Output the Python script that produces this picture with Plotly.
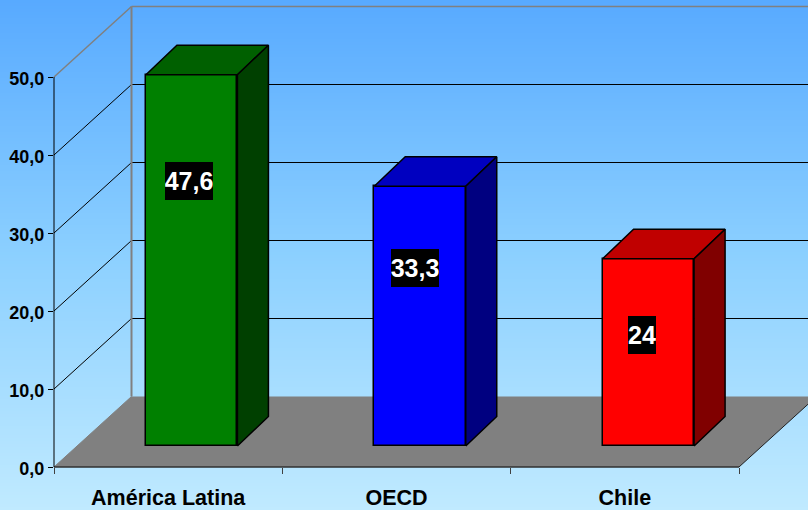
import plotly.graph_objects as go

# ---- data ----
categories = ["América Latina", "OECD", "Chile"]
values = [47.6, 33.3, 24]
value_labels = ["47,6", "33,3", "24"]
y_ticks = [0, 10, 20, 30, 40, 50]

# ---- styling ----
front_colors = ["#008000", "#0000FF", "#FF0000"]
top_colors = ["#006000", "#0000C0", "#C00000"]
side_colors = ["#004000", "#000080", "#800000"]
FONT = "Liberation Sans, Arial, sans-serif"

W, H = 808, 510
YMAX = 50
YTOP = 55                              # axis runs past the last tick to hold the 3D tops
L, R, B = 54, 739, 467                 # pixel box of the front plane
N = len(categories)
PX_X = (R - L) / N
PX_Y = 7.8
T = B - YTOP * PX_Y
DX, DY = 77.5 / PX_X, 70.5 / PX_Y      # chart depth in data units
BAR_W = 91.5 / PX_X
BAR_OFF = 0.5 + 23.5 / PX_X            # bar centre relative to its slot start
BAR_BASE = 21 / PX_Y
BDX, BDY = 31 / PX_X, 29.5 / PX_Y      # bar depth in data units
LABEL_Y = [36.7, 25.5, 16.9]
LABEL_DX = [-2.7, -5, -6.3]


def px(x):
    return x / N


def py(v):
    return v / YTOP


shapes = []
# background gradient
TOP, MID, BOT = (88, 170, 255), (140, 208, 255), (192, 234, 255)
for i in range(0, H, 3):
    f = i / (H - 1)
    a, b, g = (TOP, MID, f * 2) if f < 0.5 else (MID, BOT, f * 2 - 1)
    c = tuple(round(p + (q - p) * g) for p, q in zip(a, b))
    shapes.append(dict(type="rect", xref="paper", yref="paper", layer="below",
                       x0=-L / (R - L), x1=(W - L) / (R - L),
                       y0=(B - (i + 3.5)) / (B - T), y1=(B - i) / (B - T),
                       fillcolor=f"rgb{c}", line=dict(width=0)))


def seg(x0, v0, x1, v1, color, width):
    shapes.append(dict(type="line", xref="paper", yref="paper", layer="below",
                       x0=px(x0), y0=py(v0), x1=px(x1), y1=py(v1),
                       line=dict(color=color, width=width)))


# floor
shapes.append(dict(
    type="path", xref="paper", yref="paper", layer="below",
    path=f"M {px(0)} {py(0)} L {px(N)} {py(0)} L {px(N + DX)} {py(DY)} L {px(DX)} {py(DY)} Z",
    fillcolor="#808080", line=dict(width=0)))
# walls and gridlines
for v in y_ticks[1:-1]:
    seg(0, v, DX, v + DY, "#000000", 1)
    seg(DX, v + DY, N + DX, v + DY, "#000000", 1)
seg(0, YMAX, DX, YMAX + DY, "#808080", 1.5)
seg(DX, YMAX + DY, N + DX, YMAX + DY, "#808080", 1.5)
seg(DX, DY, DX, YMAX + DY, "#808080", 2)
seg(0, 0, DX, DY, "#808080", 1)
seg(N, 0, N + DX, DY, "#202020", 1)
seg(0, 0, N, 0, "#303030", 1.5)
seg(0, 0, 0, YMAX, "#000000", 1)

fig = go.Figure()
line = dict(color="#000000", width=1.5)
for i, v in enumerate(values):
    xc = i + BAR_OFF
    x0, x1 = xc - BAR_W / 2, xc + BAR_W / 2
    fig.add_trace(go.Bar(x=[xc], y=[v], base=BAR_BASE, width=BAR_W,
                         marker=dict(color=front_colors[i], line=line),
                         cliponaxis=False, showlegend=False, hoverinfo="skip"))
    top = BAR_BASE + v
    fig.add_trace(go.Scatter(
        x=[x0, x1, x1 + BDX, x0 + BDX, x0],
        y=[top, top, top + BDY, top + BDY, top],
        fill="toself", fillcolor=top_colors[i], mode="lines", line=line,
        cliponaxis=False, showlegend=False, hoverinfo="skip"))
    fig.add_trace(go.Scatter(
        x=[x1, x1 + BDX, x1 + BDX, x1, x1],
        y=[BAR_BASE, BAR_BASE + BDY, top + BDY, top, BAR_BASE],
        fill="toself", fillcolor=side_colors[i], mode="lines", line=line,
        cliponaxis=False, showlegend=False, hoverinfo="skip"))

annotations = [
    dict(x=i + BAR_OFF + LABEL_DX[i] / PX_X, y=LABEL_Y[i], text=value_labels[i], showarrow=False,
         xref="x", yref="y", bgcolor="#000000", borderpad=0, borderwidth=0,
         height=38, width=48 if len(value_labels[i]) > 2 else 28,
         font=dict(family=FONT, size=25, color="#FFFFFF", weight="bold"))
    for i in range(N)
]

fig.update_layout(
    width=W, height=H, autosize=False,
    margin=dict(l=L, r=W - R, t=T, b=H - B, pad=0, autoexpand=False),
    paper_bgcolor="#8CCBFF", plot_bgcolor="rgba(0,0,0,0)",
    separators=",.", bargap=0, barmode="overlay", hovermode=False,
    showlegend=False, shapes=shapes, annotations=annotations,
    font=dict(family=FONT, color="#000000"),
    xaxis=dict(range=[0, N], showgrid=False, zeroline=False, automargin=False,
               tickmode="array", tickvals=[i + 0.5 for i in range(N)], ticktext=categories,
               ticks="", tickfont=dict(family=FONT, size=21.5, color="#000000", weight="bold"),
               ticklabelstandoff=15, showline=False,
               minor=dict(tickmode="array", tickvals=list(range(N + 1)), ticks="outside",
                          ticklen=6, tickwidth=1, tickcolor="#404040", showgrid=False)),
    yaxis=dict(range=[0, YTOP], showgrid=False, zeroline=False, automargin=False,
               tickmode="array", tickvals=y_ticks, tickformat=".1f",
               ticks="outside", ticklen=5, tickwidth=1, tickcolor="#000000",
               showline=False, ticklabelshift=2,
               tickfont=dict(family=FONT, size=18, color="#000000", weight="bold")),
)
fig.write_html("out.html", config=dict(displayModeBar=False),
               post_script="document.body.style.margin='0';document.documentElement.style.overflow='hidden';")
